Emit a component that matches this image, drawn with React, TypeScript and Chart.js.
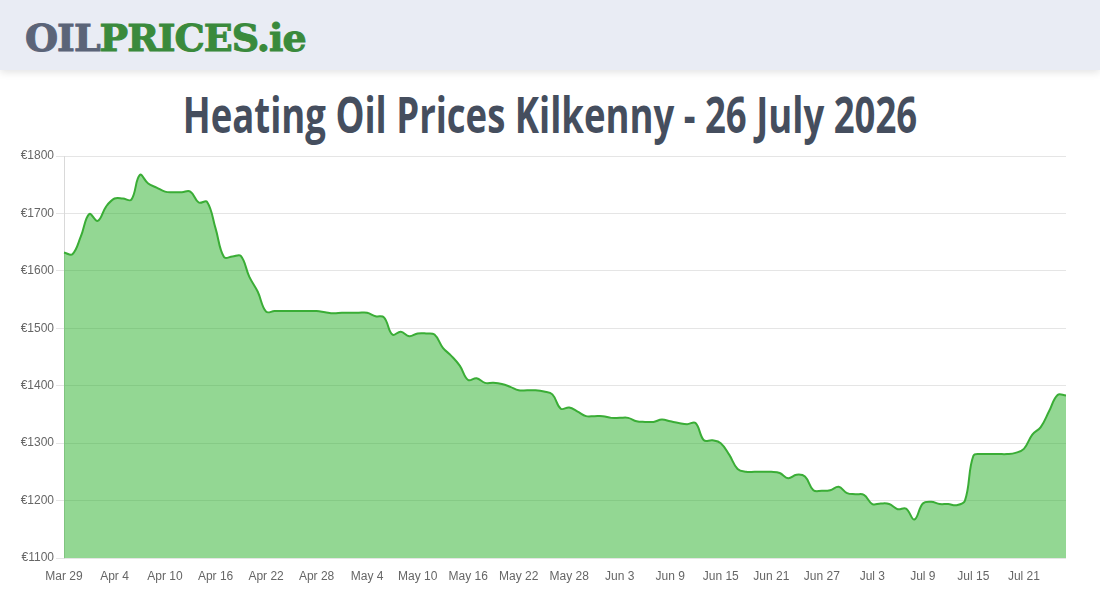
import React, { useEffect, useRef } from "react";
import { Chart, registerables } from "chart.js";

Chart.register(...registerables);

const START_DATE = "2026-03-29";
const MONTHS = ["Jan", "Feb", "Mar", "Apr", "May", "Jun", "Jul", "Aug", "Sep", "Oct", "Nov", "Dec"];

const PRICES: number[] = [
  1632, 1629, 1660, 1699, 1687, 1712, 1726, 1726, 1724, 1767,
  1752, 1745, 1738, 1737, 1737, 1738, 1719, 1720, 1674, 1624,
  1625, 1626, 1590, 1564, 1529, 1530, 1530, 1530, 1530, 1530,
  1530, 1528, 1526, 1527, 1527, 1527, 1527, 1521, 1519, 1489,
  1494, 1486, 1491, 1491, 1489, 1466, 1452, 1435, 1410, 1413,
  1405, 1405, 1403, 1398, 1392, 1392, 1392, 1390, 1385, 1360,
  1362, 1355, 1347, 1347, 1347, 1344, 1344, 1344, 1338, 1337,
  1337, 1341, 1338, 1335, 1333, 1335, 1305, 1305, 1300, 1280,
  1255, 1250, 1250, 1250, 1250, 1248, 1239, 1245, 1242, 1218,
  1217, 1218, 1224, 1213, 1211, 1210, 1194, 1195, 1194, 1185,
  1186, 1167, 1195, 1198, 1194, 1194, 1192, 1200, 1278, 1281,
  1281, 1281, 1281, 1283, 1290, 1315, 1328, 1356, 1384, 1383,
];

const Y_MIN = 1100;
const Y_MAX = 1800;
const Y_STEP = 100;
const TICK_EVERY = 6;

function makeLabels(n: number): string[] {
  const out: string[] = [];
  const d = new Date(START_DATE + "T12:00:00Z");
  for (let i = 0; i < n; i++) {
    out.push(MONTHS[d.getUTCMonth()] + " " + d.getUTCDate());
    d.setUTCDate(d.getUTCDate() + 1);
  }
  return out;
}

const LABELS = makeLabels(PRICES.length);

export default function App() {
  const ref = useRef<HTMLCanvasElement | null>(null);

  useEffect(() => {
    document.body.style.margin = "0";
    if (!ref.current) return;
    const chart = new Chart(ref.current, {
      type: "line",
      data: {
        labels: LABELS,
        datasets: [
          {
            data: PRICES,
            borderColor: "#3aad36",
            backgroundColor: "rgba(40,175,40,0.5)",
            borderWidth: 2,
            fill: "origin",
            pointRadius: 0,
            tension: 0.4,
          },
        ],
      },
      options: {
        animation: false,
        responsive: false,
        maintainAspectRatio: false,
        layout: { padding: { left: 0, right: 34, top: 11, bottom: 0 } },
        plugins: { legend: { display: false }, tooltip: { enabled: false } },
        scales: {
          x: {
            grid: { display: false },
            border: { display: false },
            ticks: {
              autoSkip: false,
              maxRotation: 0,
              minRotation: 0,
              color: "#666",
              font: { family: "Liberation Sans, Arial, sans-serif", size: 12 },
              callback: (_v: any, idx: number) => (idx % TICK_EVERY === 0 ? LABELS[idx] : ""),
            },
            afterFit: (s: any) => {
              s.height = 37;
            },
          },
          y: {
            min: Y_MIN,
            max: Y_MAX,
            grid: { color: "rgba(0,0,0,0.1)", tickLength: 8 },
            border: { color: "rgba(0,0,0,0.15)" },
            ticks: {
              stepSize: Y_STEP,
              color: "#666",
              padding: 2,
              font: { family: "Liberation Sans, Arial, sans-serif", size: 12 },
              callback: (v: any) => "€" + v,
            },
            afterFit: (s: any) => {
              s.width = 64;
            },
          },
        },
      },
    });
    return () => chart.destroy();
  }, []);

  return (
    <div style={{ position: "absolute", left: 0, top: 0, width: 1100, height: 600, background: "#fff", overflow: "hidden" }}>
      <div
        style={{
          position: "absolute",
          left: 0,
          top: 0,
          width: 1100,
          height: 70,
          background: "#e9ecf4",
          boxShadow: "0 2px 8px rgba(0,0,0,0.12)",
        }}
      >
        <div
          style={{
            position: "absolute",
            left: 25,
            top: 16,
            fontFamily: "'DejaVu Serif', serif",
            fontWeight: 700,
            fontSize: 38,
            lineHeight: "44px",
            letterSpacing: -1,
            whiteSpace: "nowrap",
            transformOrigin: "0 50%",
            transform: "scaleX(1.0)",
            WebkitTextStroke: "1px currentColor",
          }}
        >
          <span style={{ color: "#5b6478" }}>OIL</span>
          <span style={{ color: "#3a8a3c" }}>PRICES.ie</span>
        </div>
      </div>
      <div
        style={{
          position: "absolute",
          left: 0,
          top: 84,
          width: 1100,
          textAlign: "center",
          fontFamily: "'Open Sans', sans-serif",
          fontWeight: 700,
          fontSize: 50,
          lineHeight: "60px",
          color: "#454e5e",
          whiteSpace: "nowrap",
        }}
      >
        <span style={{ display: "inline-block", transform: "scaleX(0.73)" }}>
          Heating Oil Prices Kilkenny - 26 July 2026
        </span>
      </div>
      <canvas
        ref={ref}
        width={1100}
        height={450}
        style={{ position: "absolute", left: 0, top: 145, width: 1100, height: 450 }}
      />
    </div>
  );
}
